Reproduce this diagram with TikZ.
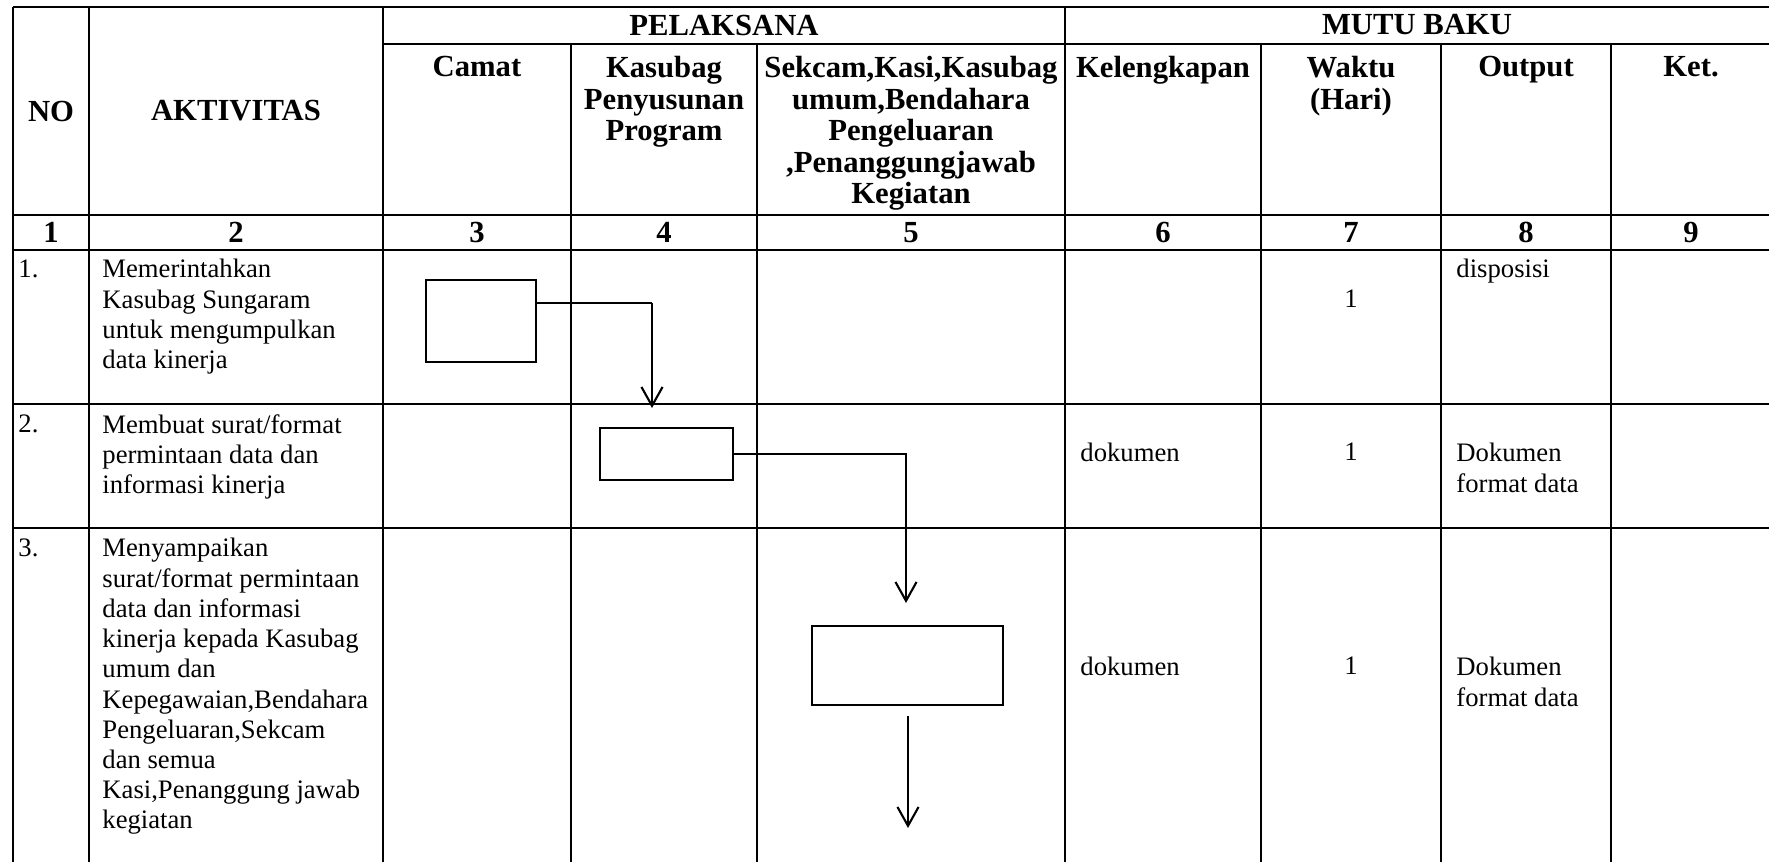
\documentclass[tikz,border=0pt]{standalone}
\usepackage{fontspec}
\setmainfont{Liberation Serif}
\usetikzlibrary{arrows.meta}
\begin{document}
\begin{tikzpicture}[x=0.45pt,y=-0.45pt,
  tbl/.style={line width=0.95pt,black},
  body/.style={font=\fontsize{12}{13.6}\selectfont, inner sep=0pt, anchor=north west, align=left},
  hdr/.style={font=\fontsize{13.8}{14.2}\selectfont\bfseries, inner sep=0pt, anchor=north, align=center},
  big/.style={font=\fontsize{13.8}{14.2}\selectfont\bfseries, inner sep=0pt, anchor=center},
  num/.style={font=\fontsize{13.8}{14.2}\selectfont\bfseries, inner sep=0pt, anchor=center},
  val/.style={font=\fontsize{12}{13.6}\selectfont, inner sep=0pt, anchor=center},
  procbox/.style={draw, line width=0.6pt, inner sep=0pt},
  conn/.style={line width=0.8pt},
  arr/.style={line width=0.95pt, -{Straight Barb[length=8.5pt,width=9.5pt]}}]
\useasboundingbox (0,0) rectangle (1769,861);
\clip (0,0) rectangle (1769,861);
% table grid
\draw[tbl] (13,7) -- (1775,7);
\draw[tbl] (383,44) -- (1775,44);
\foreach \yy in {215,250,404,528} \draw[tbl] (13,\yy) -- (1775,\yy);
\foreach \xx in {13,89,383,1065,1775} \draw[tbl] (\xx,7) -- (\xx,870);
\foreach \xx in {571,757,1261,1441,1611} \draw[tbl] (\xx,44) -- (\xx,870);
% header
\node[big] (hNO) at (51,111) {NO};
\node[big] (hAkt) at (236,111) {AKTIVITAS};
\node[big] (hPel) at (724,25) {PELAKSANA};
\node[big] (hMutu) at (1417,25) {MUTU BAKU};
\node[hdr] (hCamat) at (477,56) {Camat};
\node[hdr] (hKasubag) at (664,56) {Kasubag\\Penyusunan\\Program};
\node[hdr] (hSekcam) at (911,56) {Sekcam,Kasi,Kasubag\\umum,Bendahara\\Pengeluaran\\,Penanggungjawab\\Kegiatan};
\node[hdr] (hKel) at (1163,56) {Kelengkapan};
\node[hdr] (hWaktu) at (1351,56) {Waktu\\(Hari)};
\node[hdr] (hOut) at (1526,56) {Output};
\node[hdr] (hKet) at (1691,56) {Ket.};
% number row
\node[num] (n1) at (51,232.5) {1};
\node[num] (n2) at (236,232.5) {2};
\node[num] (n3) at (477,232.5) {3};
\node[num] (n4) at (664,232.5) {4};
\node[num] (n5) at (911,232.5) {5};
\node[num] (n6) at (1163,232.5) {6};
\node[num] (n7) at (1351,232.5) {7};
\node[num] (n8) at (1526,232.5) {8};
\node[num] (n9) at (1691,232.5) {9};
% row 1
\node[body] (r1no) at (18,259) {1.};
\node[body] (r1akt) at (102,259) {Memerintahkan\\Kasubag Sungaram\\untuk mengumpulkan\\data kinerja};
\node[val] (r1w) at (1351,299) {1};
\node[body] (r1out) at (1456,259) {disposisi};
% row 2
\node[body] (r2no) at (18,414) {2.};
\node[body] (r2akt) at (102,414) {Membuat surat/format\\permintaan data dan\\informasi kinerja};
\node[body] (r2kel) at (1080,443) {dokumen};
\node[val] (r2w) at (1351,452) {1};
\node[body] (r2out) at (1456,443) {Dokumen\\format data};
% row 3
\node[body] (r3no) at (18,538) {3.};
\node[body] (r3akt) at (102,538) {Menyampaikan\\surat/format permintaan\\data dan informasi\\kinerja kepada Kasubag\\umum dan\\Kepegawaian,Bendahara\\Pengeluaran,Sekcam\\dan semua\\Kasi,Penanggung jawab\\kegiatan};
\node[body] (r3kel) at (1080,657) {dokumen};
\node[val] (r3w) at (1351,666) {1};
\node[body] (r3out) at (1456,657) {Dokumen\\format data};
% process boxes
\node[procbox, minimum width=110*0.45pt, minimum height=82*0.45pt] (b1) at (481,321) {};
\node[procbox, minimum width=133*0.45pt, minimum height=52*0.45pt] (b2) at (666.5,454) {};
\node[procbox, minimum width=191*0.45pt, minimum height=79*0.45pt] (b3) at (907.5,665.5) {};
% connectors
\coordinate (c1) at (652,303);
\coordinate (e1) at (652,408);
\coordinate (e2) at (906,603);
\coordinate (s3) at (908,716);
\coordinate (e3) at (908,828);
\draw[conn] (b1.east |- c1) -- (c1);
\draw[arr] (c1) -- (e1);
\draw[arr] (b2.east) -| (e2);
\draw[arr] (s3) -- (e3);
\end{tikzpicture}
\end{document}
